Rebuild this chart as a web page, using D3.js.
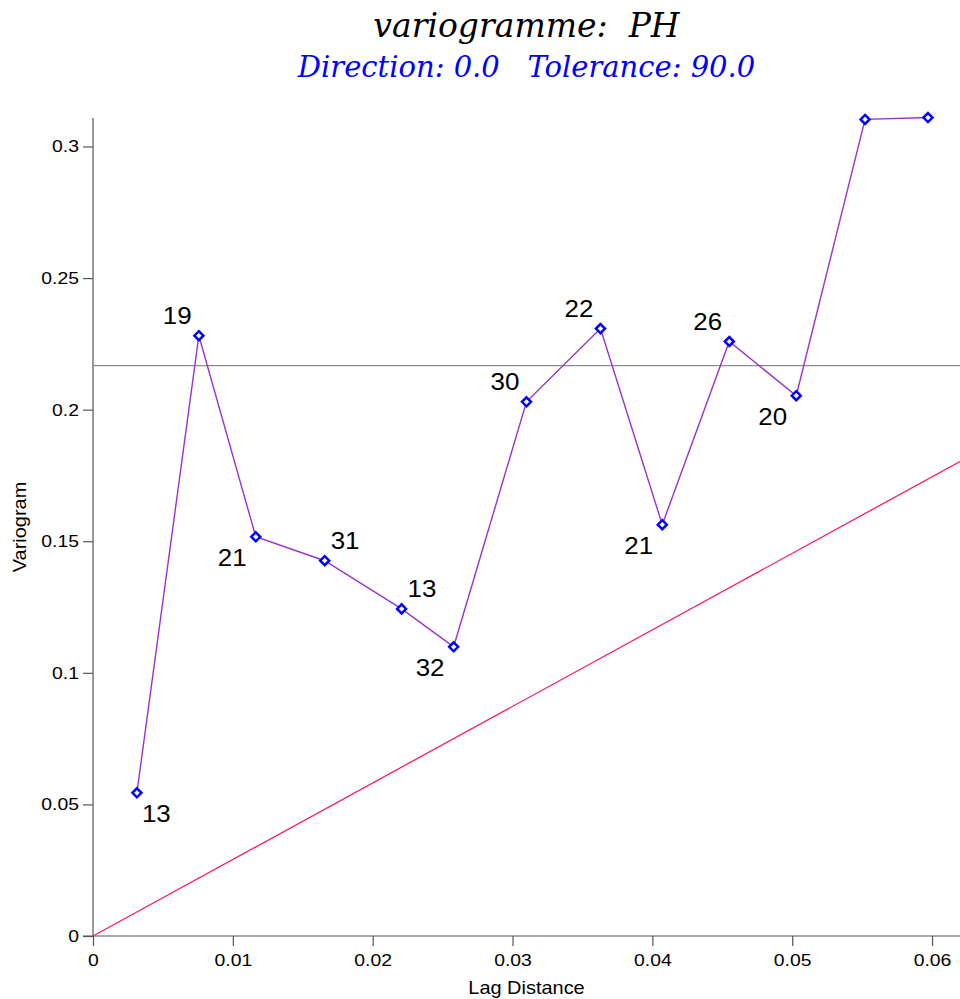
<!DOCTYPE html>
<html>
<head>
<meta charset="utf-8">
<script src="https://cdn.jsdelivr.net/npm/d3@7"></script>
<style>
  body { margin: 0; background: #fff; }
  svg { display: block; }
</style>
</head>
<body>
<svg id="chart" width="960" height="999"></svg>
<script>
const lags = [0.00314, 0.00757, 0.01164, 0.01657, 0.02207, 0.02579, 0.0310, 0.03629, 0.04071, 0.0455, 0.05029, 0.05521, 0.05971];
const gammas = [0.0544, 0.2281, 0.1517, 0.1426, 0.1243, 0.1099, 0.2030, 0.2308, 0.1563, 0.2259, 0.2053, 0.3103, 0.3110];
const pairs = ['13', '19', '21', '31', '13', '32', '30', '22', '21', '26', '20', '', ''];
// where the pair count sits: 'ur' up-right, 'ul' up-left, 'dr' down-right, 'dl' down-left
const labelPos = ['dr', 'ul', 'dl', 'ur', 'ur', 'dl', 'ul', 'ul', 'dl', 'ul', 'dl', 'ul', 'ul'];
const xTicks = [0, 0.01, 0.02, 0.03, 0.04, 0.05, 0.06];
const yTicks = [0, 0.05, 0.1, 0.15, 0.2, 0.25, 0.3];
const sill = 0.2167;
const modelLag = [0, 0.062];
const modelGamma = [0, 0.1803];

const svg = d3.select('#chart');
const margin = { top: 118, right: 0, bottom: 63, left: 93 };
const width = +svg.attr('width');
const height = +svg.attr('height');
const sans = '"Liberation Sans", Arial, sans-serif';
const stretch = 1.14;

const x = d3.scaleLinear().domain([0, 0.062]).range([margin.left, width - margin.right]);
const y = d3.scaleLinear().domain([0, 0.3]).range([936, 146.5]);

// titles
const cx = (margin.left + width) / 2;
svg.append('text')
  .attr('x', cx).attr('y', 37)
  .attr('text-anchor', 'middle')
  .style('font-family', '"DejaVu Serif", serif')
  .style('font-style', 'italic')
  .style('font-size', '33px')
  .style('white-space', 'pre')
  .text('variogramme:  PH');

svg.append('text')
  .attr('x', cx).attr('y', 77)
  .attr('text-anchor', 'middle')
  .attr('fill', '#0000ff')
  .style('font-family', '"DejaVu Serif", serif')
  .style('font-style', 'italic')
  .style('font-size', '29px')
  .style('white-space', 'pre')
  .text('Direction: 0.0   Tolerance: 90.0');

// axes
const xAxis = d3.axisBottom(x).tickValues(xTicks).tickSize(10).tickSizeOuter(0)
  .tickFormat(d => d === 0 ? '0' : d3.format('.2f')(d).replace(/0$/, ''));
const yAxis = d3.axisLeft(y).tickValues(yTicks).tickSize(10).tickSizeOuter(0)
  .tickFormat(d => d === 0 ? '0' : String(+d.toFixed(2)));

const gx = svg.append('g').attr('transform', 'translate(0,936)').call(xAxis);
const gy = svg.append('g').attr('transform', 'translate(' + margin.left + ',0)').call(yAxis);

gy.select('.domain').attr('d', 'M0,' + margin.top + 'V936');
gx.select('.domain').attr('d', 'M' + (margin.left - 10) + ',0H' + width);

[gx, gy].forEach(g => {
  g.selectAll('.domain, .tick line').attr('stroke', '#555').attr('stroke-width', 1.2);
  g.selectAll('text')
    .attr('fill', '#000')
    .style('font-family', sans)
    .style('font-size', '17px');
});
gx.selectAll('text').attr('y', 0).attr('dy', 0)
  .attr('transform', 'translate(0,30) scale(' + stretch + ',1)');
gy.selectAll('text').attr('x', 0)
  .attr('transform', 'translate(-14,0) scale(' + stretch + ',1)');

svg.append('text')
  .attr('transform', 'translate(' + cx + ',994) scale(' + stretch + ',1)')
  .attr('text-anchor', 'middle')
  .style('font-family', sans)
  .style('font-size', '17.5px')
  .text('Lag Distance');

svg.append('text')
  .attr('transform', 'translate(26,527) rotate(-90) scale(' + stretch + ',1)')
  .attr('text-anchor', 'middle')
  .style('font-family', sans)
  .style('font-size', '17.5px')
  .text('Variogram');

// sill
svg.append('line')
  .attr('x1', margin.left).attr('x2', width)
  .attr('y1', y(sill)).attr('y2', y(sill))
  .attr('stroke', '#8c8c8c').attr('stroke-width', 1.3);

// model line
svg.append('line')
  .attr('x1', x(modelLag[0])).attr('y1', y(modelGamma[0]))
  .attr('x2', x(modelLag[1])).attr('y2', y(modelGamma[1]))
  .attr('stroke', '#ff1a66').attr('stroke-width', 1.3);

// experimental variogram
const pts = lags.map((d, i) => ({ lag: d, g: gammas[i], n: pairs[i], pos: labelPos[i] }));

svg.append('path')
  .datum(pts)
  .attr('fill', 'none')
  .attr('stroke', '#9933cc')
  .attr('stroke-width', 1.4)
  .attr('d', d3.line().x(d => x(d.lag)).y(d => y(d.g)));

svg.selectAll('.mark').data(pts).enter()
  .append('path')
  .attr('class', 'mark')
  .attr('transform', d => 'translate(' + x(d.lag) + ',' + y(d.g) + ')')
  .attr('d', 'M0,-4.5L4.5,0L0,4.5L-4.5,0Z')
  .attr('fill', '#fff')
  .attr('stroke', '#0000ff')
  .attr('stroke-width', 2.5);

const off = { ur: [6, -12], ul: [-36, -12], dr: [5, 29], dl: [-38, 29] };
svg.selectAll('.count').data(pts.filter(d => d.n !== '')).enter()
  .append('text')
  .attr('class', 'count')
  .attr('transform', d => 'translate(' + (x(d.lag) + off[d.pos][0]) + ',' + (y(d.g) + off[d.pos][1]) + ') scale(1.08,1)')
  .style('font-family', sans)
  .style('font-size', '24px')
  .text(d => d.n);
</script>
</body>
</html>
